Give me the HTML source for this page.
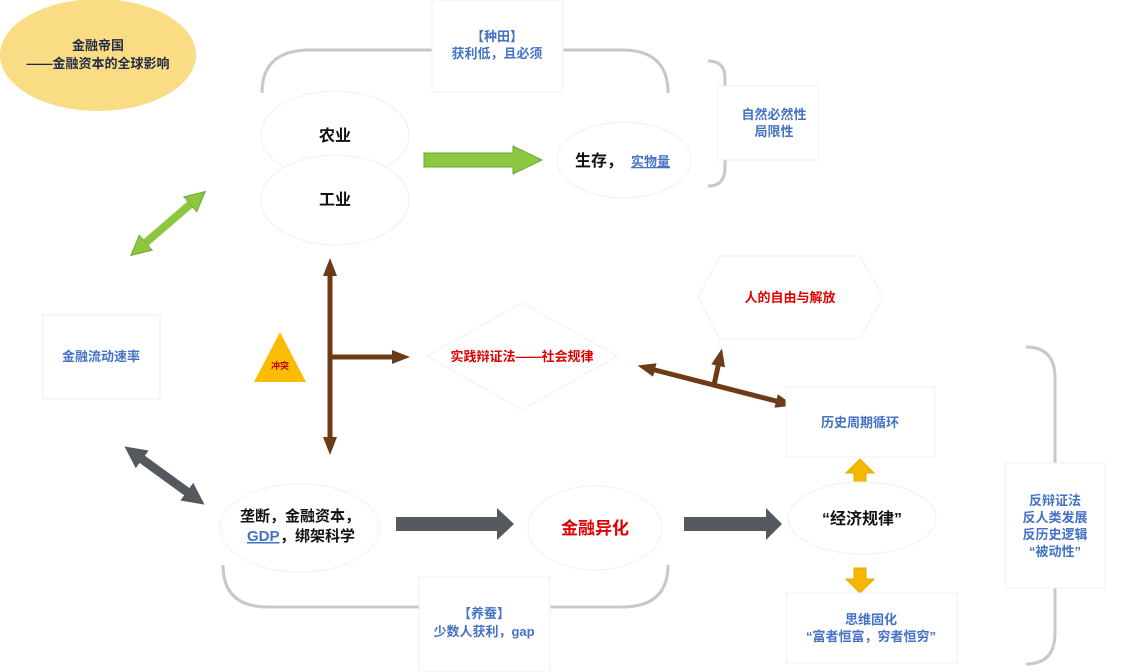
<!DOCTYPE html>
<html><head><meta charset="utf-8"><style>
html,body{margin:0;padding:0;background:#fff;}
svg{display:block;}
text{font-family:"Liberation Sans","Noto Sans CJK SC",sans-serif;font-weight:bold;}
.b{fill:#4472c4;font-size:13px;}
.k{fill:#111;font-size:16px;}
.r{fill:#e00000;}
</style></head><body>
<svg width="1146" height="672" viewBox="0 0 1146 672" xmlns="http://www.w3.org/2000/svg">
<defs>
<marker id="mb" markerUnits="userSpaceOnUse" markerWidth="20" markerHeight="20" refX="4" refY="10" orient="auto-start-reverse" viewBox="0 0 20 20"><path d="M0,3 L18,10 L0,17 Z" fill="#6e3b17"/></marker>
<marker id="mg" markerUnits="userSpaceOnUse" markerWidth="22" markerHeight="22" refX="4" refY="11" orient="auto-start-reverse" viewBox="0 0 22 22"><path d="M0,1 L20,11 L0,21 Z" fill="#8dc63f" stroke="#6aa632"/></marker>
<marker id="mk" markerUnits="userSpaceOnUse" markerWidth="24" markerHeight="24" refX="4" refY="12" orient="auto-start-reverse" viewBox="0 0 24 24"><path d="M0,1 L22,12 L0,23 Z" fill="#54585f"/></marker>
</defs>

<!-- title ellipse -->
<ellipse cx="98" cy="55" rx="98" ry="56" fill="#f9dc84"/>
<text x="98" y="50" text-anchor="middle" style="font-size:13px;fill:#1f2a44">金融帝国</text>
<text x="98" y="68" text-anchor="middle" style="font-size:13px;fill:#1f2a44">——金融资本的全球影响</text>

<!-- top bracket -->
<path d="M262,93 Q262,50 310,50 L622,50 Q668,50 668,93" fill="none" stroke="#c8c8c8" stroke-width="3"/>
<rect x="432" y="0" width="131" height="92" fill="#fff" stroke="#f0f0f0"/>
<text x="497" y="41" text-anchor="middle" class="b">【种田】</text>
<text x="497" y="58" text-anchor="middle" class="b">获利低，且必须</text>

<!-- ellipses top -->
<ellipse cx="335" cy="135" rx="74" ry="44" fill="#fff" stroke="#f0f0f0"/>
<ellipse cx="335" cy="200" rx="74" ry="45" fill="#fff" stroke="#f0f0f0"/>
<text x="335" y="141" text-anchor="middle" class="k">农业</text>
<text x="335" y="205" text-anchor="middle" class="k">工业</text>

<polygon points="424,153 513,153 513,146 542,160 513,174 513,167 424,167" fill="#8dc63f" stroke="#6aa632"/>

<ellipse cx="624" cy="160" rx="67" ry="38" fill="#fff" stroke="#f0f0f0"/>
<text x="575" y="166" class="k">生存，</text>
<text x="631" y="166" class="b" text-decoration="underline">实物量</text>

<path d="M708,61 Q725,61 725,78 L725,168 Q725,186 708,186" fill="none" stroke="#c8c8c8" stroke-width="3"/>
<rect x="718" y="86" width="100" height="74" fill="#fff" stroke="#f0f0f0"/>
<text x="774" y="119" text-anchor="middle" class="b">自然必然性</text>
<text x="774" y="136" text-anchor="middle" class="b">局限性</text>

<!-- green diag -->
<line x1="143" y1="245" x2="193" y2="202" stroke="#8dc63f" stroke-width="8" marker-start="url(#mg)" marker-end="url(#mg)"/>

<!-- left box -->
<rect x="43" y="315" width="117" height="84" fill="#fff" stroke="#eeeeee"/>
<text x="101" y="361" text-anchor="middle" class="b">金融流动速率</text>

<!-- gray diag -->
<line x1="139" y1="457" x2="190" y2="494" stroke="#54585f" stroke-width="9" marker-start="url(#mk)" marker-end="url(#mk)"/>

<!-- triangle -->
<polygon points="280,332 254,382 306,382" fill="#fbbc05"/>
<text x="280" y="369" text-anchor="middle" style="font-size:9px;fill:#c00000">冲突</text>

<!-- brown cross -->
<line x1="330" y1="272" x2="330" y2="441" stroke="#6e3b17" stroke-width="5" marker-start="url(#mb)" marker-end="url(#mb)"/>
<line x1="330" y1="357" x2="396" y2="357" stroke="#6e3b17" stroke-width="5" marker-end="url(#mb)"/>

<!-- diamond -->
<polygon points="522,303 617,356 522,410 427,356" fill="#fff" stroke="#f0f0f0"/>
<text x="522" y="361" text-anchor="middle" class="r" style="font-size:13px">实践辩证法——社会规律</text>

<!-- hexagon -->
<polygon points="720,256 860,256 883,297 860,339 720,339 698,297" fill="#fff" stroke="#f0f0f0"/>
<text x="790" y="302" text-anchor="middle" class="r" style="font-size:13px">人的自由与解放</text>

<!-- brown diag -->
<line x1="651" y1="369" x2="780" y2="402" stroke="#6e3b17" stroke-width="5" marker-start="url(#mb)" marker-end="url(#mb)"/>
<line x1="714" y1="385" x2="719" y2="362" stroke="#6e3b17" stroke-width="5" marker-end="url(#mb)"/>

<!-- history box -->
<rect x="786" y="387" width="149" height="70" fill="#fff" stroke="#f0f0f0"/>
<text x="860" y="427" text-anchor="middle" class="b">历史周期循环</text>

<!-- yellow arrows -->
<polygon points="860,459 874,473 866,473 866,484 854,484 854,473 846,473" fill="#f5b800" stroke="#e8a800"/>
<polygon points="860,593 874,579 866,579 866,568 854,568 854,579 846,579" fill="#f5b800" stroke="#e8a800"/>

<ellipse cx="862" cy="518" rx="74" ry="36" fill="#fff" stroke="#f0f0f0"/>
<text x="862" y="524" text-anchor="middle" class="k">“经济规律”</text>

<rect x="786" y="593" width="171" height="70" fill="#fff" stroke="#f0f0f0"/>
<text x="871" y="624" text-anchor="middle" class="b">思维固化</text>
<text x="871" y="641" text-anchor="middle" class="b">“富者恒富，穷者恒穷”</text>

<!-- right bracket -->
<path d="M1026,347 Q1055,347 1055,378 L1055,633 Q1055,664 1026,664" fill="none" stroke="#c8c8c8" stroke-width="3"/>
<rect x="1005" y="463" width="100" height="125" fill="#fff" stroke="#f0f0f0"/>
<text x="1055" y="505" text-anchor="middle" class="b">反辩证法</text>
<text x="1055" y="522" text-anchor="middle" class="b">反人类发展</text>
<text x="1055" y="539" text-anchor="middle" class="b">反历史逻辑</text>
<text x="1055" y="556" text-anchor="middle" class="b">“被动性”</text>

<!-- bottom bracket -->
<path d="M223,565 Q223,607 268,607 L622,607 Q668,607 668,565" fill="none" stroke="#c8c8c8" stroke-width="3"/>
<rect x="419" y="577" width="131" height="95" fill="#fff" stroke="#f0f0f0"/>
<text x="484" y="618" text-anchor="middle" class="b">【养蚕】</text>
<text x="484" y="636" text-anchor="middle" class="b">少数人获利，gap</text>

<!-- bottom row -->
<ellipse cx="300" cy="528" rx="80" ry="44" fill="#fff" stroke="#f0f0f0"/>
<text x="240" y="521" class="k" style="font-size:15px">垄断，金融资本，</text>
<text x="247" y="541" class="b" style="font-size:15px" text-decoration="underline">GDP</text>
<text x="280" y="541" class="k" style="font-size:15px">，绑架科学</text>

<polygon points="396,517 497,517 497,508 514,524 497,540 497,531 396,531" fill="#54585f"/>

<ellipse cx="595" cy="528" rx="67" ry="42" fill="#fff" stroke="#f0f0f0"/>
<text x="595" y="534" text-anchor="middle" class="r" style="font-size:17px">金融异化</text>

<polygon points="684,517 766,517 766,508 782,524 766,540 766,531 684,531" fill="#54585f"/>
</svg>
</body></html>
